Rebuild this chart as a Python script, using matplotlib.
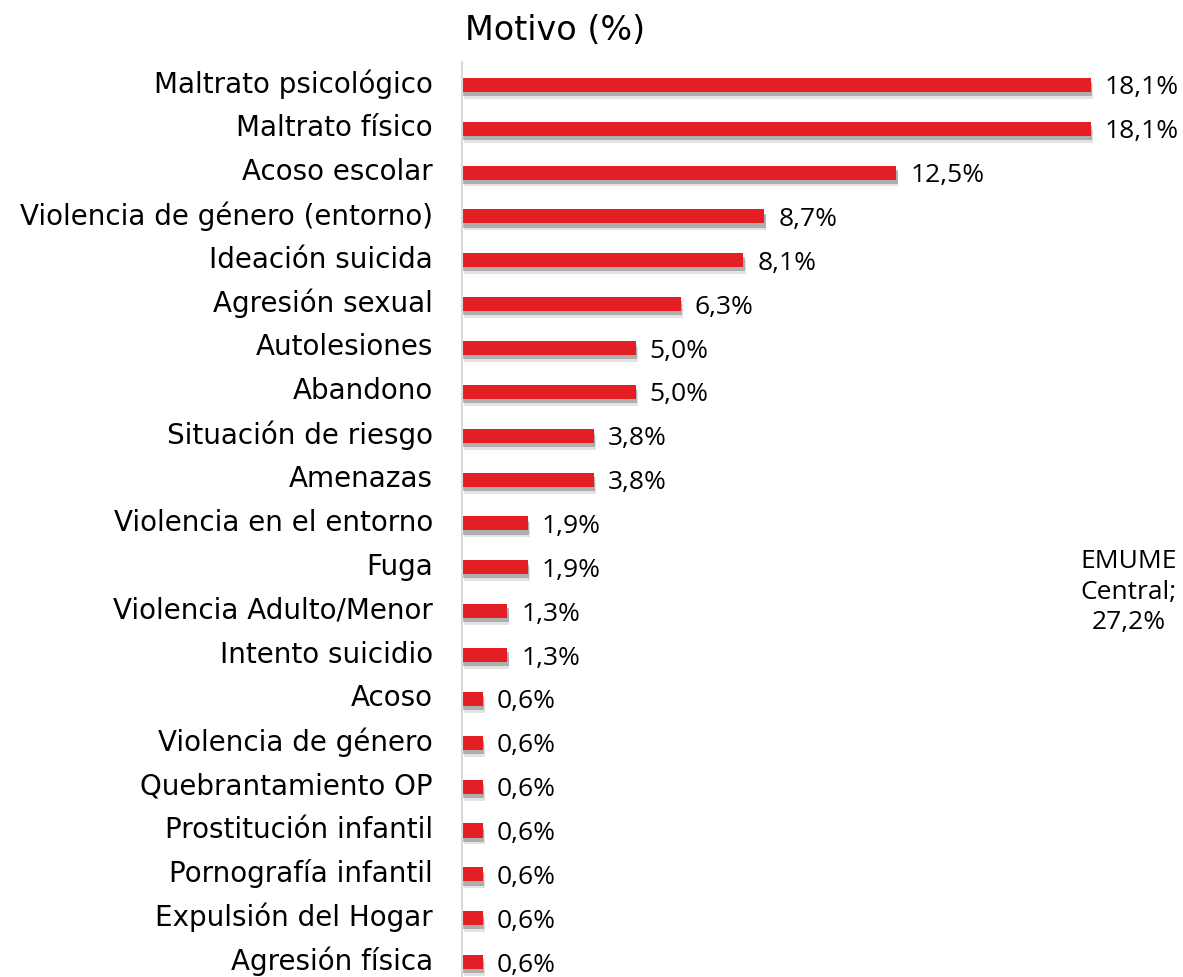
import numpy as np
import matplotlib.pyplot as plt
import matplotlib.patheffects as pe
import matplotlib.transforms as mtransforms

# Datos del gráfico
motivos = ['Maltrato psicológico', 'Maltrato físico', 'Acoso escolar',
           'Violencia de género (entorno)', 'Ideación suicida', 'Agresión sexual',
           'Autolesiones', 'Abandono', 'Situación de riesgo', 'Amenazas',
           'Violencia en el entorno', 'Fuga', 'Violencia Adulto/Menor',
           'Intento suicidio', 'Acoso', 'Violencia de género',
           'Quebrantamiento OP', 'Prostitución infantil', 'Pornografía infantil',
           'Expulsión del Hogar', 'Agresión física']
valores = [18.1, 18.1, 12.5, 8.7, 8.1, 6.3, 5.0, 5.0, 3.8, 3.8,
           1.9, 1.9, 1.3, 1.3, 0.6, 0.6, 0.6, 0.6, 0.6, 0.6, 0.6]
etiqueta_extra = 'EMUME\nCentral;\n27,2%'

rojo = '#E31E24'

fig = plt.figure(figsize=(11.83, 9.77), dpi=100)
ax = fig.add_axes([462 / 1183, 0, 1 - 462 / 1183, 1 - 62 / 977])

y = np.arange(len(motivos))
sombra = [pe.SimplePatchShadow(offset=(1.5, -5), shadow_rgbFace='#c8c8c8', alpha=0.5),
          pe.SimplePatchShadow(offset=(1, -3), shadow_rgbFace='#8c8c8c', alpha=0.6),
          pe.Normal()]
barras = ax.barh(y, valores, height=0.32, color=rojo, edgecolor='none')
for b in barras:
    b.set_path_effects(sombra)

# Etiquetas de valor
for yi, v in zip(y, valores):
    ax.text(v + 0.4, yi + 0.07, f'{v:.1f}%'.replace('.', ','), va='center', ha='left',
            fontsize=19, family='Open Sans', color='black')

ax.set_xlim(0, 721 / 34.75)
ax.set_ylim(20.34, -0.52)
ax.set_yticks(y)
ax.set_yticklabels(motivos, fontsize=20, family='DejaVu Sans')
ax.tick_params(axis='y', length=0, pad=21)
# subir un poco las etiquetas
subir = mtransforms.ScaledTranslation(0, 0.035, fig.dpi_scale_trans)
for lab in ax.get_yticklabels():
    lab.set_transform(lab.get_transform() + subir)
ax.set_xticks([])
for s in ['top', 'right', 'bottom']:
    ax.spines[s].set_visible(False)
ax.spines['left'].set_color('#d9d9d9')
ax.spines['left'].set_linewidth(1.5)

fig.text(555 / 1183, 1 - 30 / 977, 'Motivo (%)', ha='center', va='center',
         fontsize=24, family='DejaVu Sans')
fig.text(1129 / 1183, 1 - 592 / 977, etiqueta_extra, ha='center', va='center',
         fontsize=19, family='Open Sans', linespacing=1.3)

fig.savefig('out.png', dpi=100)
